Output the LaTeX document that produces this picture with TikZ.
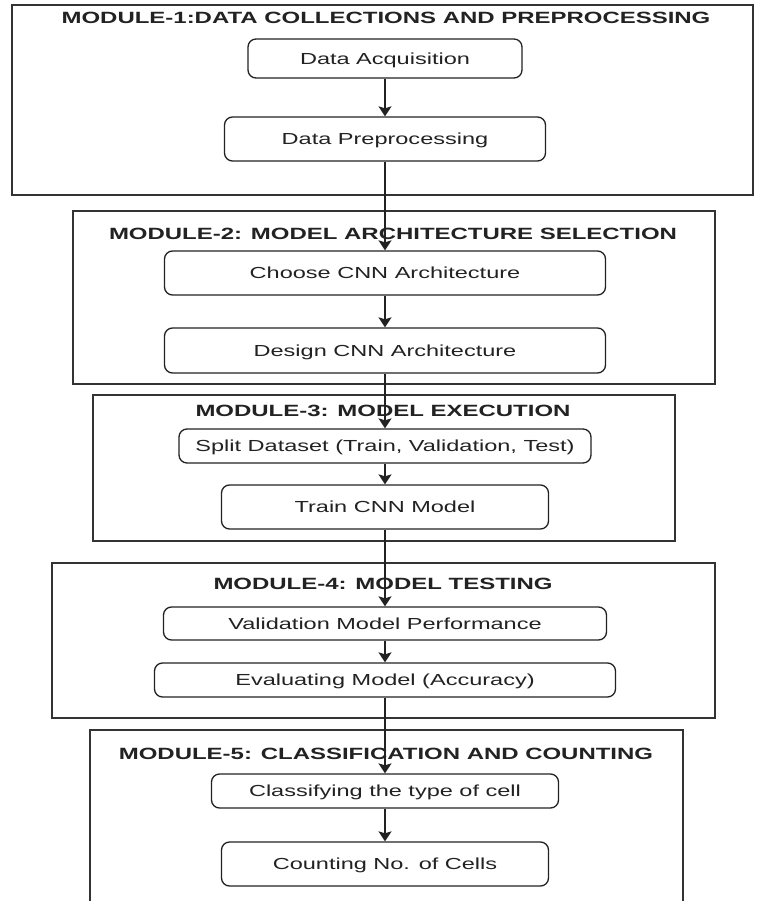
\documentclass[tikz,border=0pt]{standalone}
\usepackage{fontspec}
\setmainfont{Liberation Sans}[FakeStretch=1.47]
\usetikzlibrary{arrows.meta}
\definecolor{ink}{HTML}{222222}
\definecolor{framec}{HTML}{333333}
\begin{document}
\begin{tikzpicture}[x=1pt,y=-1pt,
  frame/.style={draw=framec, line width=1.2pt, inner sep=0pt},
  box/.style={draw=ink, line width=1.3pt, rounded corners=8pt, fill=white, inner sep=0pt,
    text=ink, text height=11.5pt, text depth=0pt, font=\fontsize{16}{19}\selectfont},
  ttl/.style={inner sep=0pt, text=ink, text height=11.5pt, text depth=0pt,
    font=\fontsize{16.3}{19}\selectfont\bfseries},
  flow/.style={draw=ink, line width=1.6pt, -{Stealth[length=10pt,width=13pt,inset=2pt]}}]
\clip (0,0) rectangle (758,901);
\fill[white] (0,0) rectangle (758,901);
% module frames
\node[frame, minimum width=741pt, minimum height=190pt] (m1) at (382.5,100) {};
\node[frame, minimum width=642pt, minimum height=173pt] (m2) at (394,297.5) {};
\node[frame, minimum width=582pt, minimum height=146pt] (m3) at (384,468) {};
\node[frame, minimum width=663pt, minimum height=155pt] (m4) at (383.5,640.5) {};
\node[frame, minimum width=593pt, minimum height=190pt] (m5) at (386.5,825) {};
% titles
\node[ttl] (t1) at (386,18) {MODULE-1:DATA COLLECTIONS AND PREPROCESSING};
\node[ttl] (t2) at (393,234) {MODULE-2: MODEL ARCHITECTURE SELECTION};
\node[ttl] (t3) at (383,411) {MODULE-3: MODEL EXECUTION};
\node[ttl] (t4) at (383,584) {MODULE-4: MODEL TESTING};
\node[ttl] (t5) at (386,754) {MODULE-5: CLASSIFICATION AND COUNTING};
% steps
\node[box, minimum width=274pt, minimum height=39pt] (da) at (385,58.5) {Data Acquisition};
\node[box, minimum width=321pt, minimum height=44pt] (dp) at (385,139) {Data Preprocessing};
\node[box, minimum width=441pt, minimum height=44pt] (ch) at (385,273) {Choose CNN Architecture};
\node[box, minimum width=441pt, minimum height=45pt] (de) at (385,350.5) {Design CNN Architecture};
\node[box, minimum width=412pt, minimum height=34pt] (sp) at (385,446) {Split Dataset (Train, Validation, Test)};
\node[box, minimum width=327pt, minimum height=44pt] (tr) at (385,507) {Train CNN Model};
\node[box, minimum width=443pt, minimum height=33pt] (va) at (385,623.5) {Validation Model Performance};
\node[box, minimum width=461pt, minimum height=34pt] (ev) at (385,680) {Evaluating Model (Accuracy)};
\node[box, minimum width=347pt, minimum height=34pt] (cl) at (385,791) {Classifying the type of cell};
\node[box, minimum width=327pt, minimum height=44pt] (co) at (385,864) {Counting No. of Cells};
% connectors
\draw[flow] (da.south) -- (dp.north);
\draw[flow] (dp.south) -- (ch.north);
\draw[flow] (ch.south) -- (de.north);
\draw[flow] (de.south) -- (sp.north);
\draw[flow] (sp.south) -- (tr.north);
\draw[flow] (tr.south) -- (va.north);
\draw[flow] (va.south) -- (ev.north);
\draw[flow] (ev.south) -- (cl.north);
\draw[flow] (cl.south) -- (co.north);
\end{tikzpicture}
\end{document}
